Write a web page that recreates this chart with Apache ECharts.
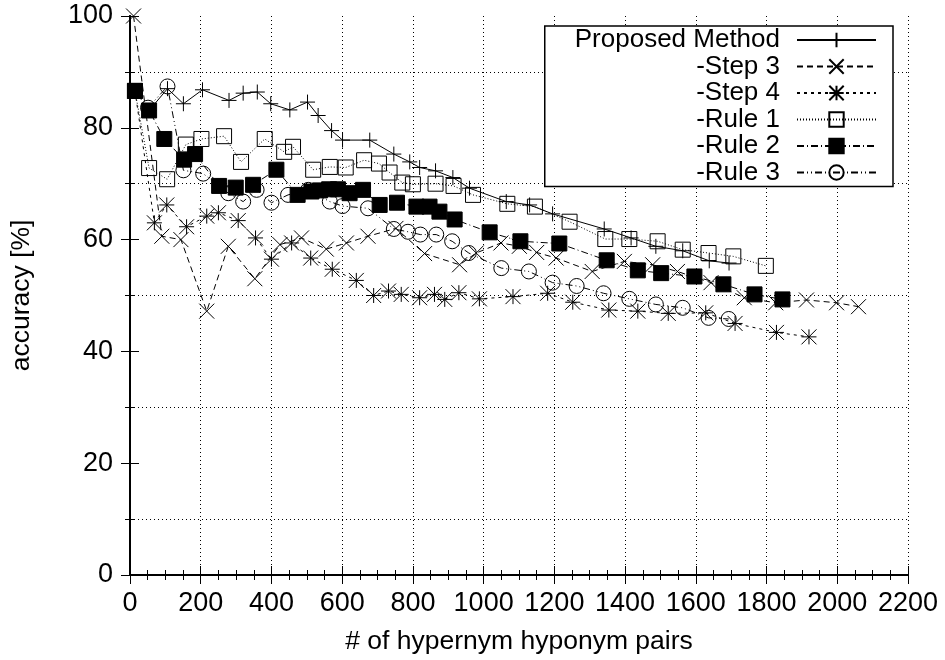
<!DOCTYPE html>
<html><head><meta charset="utf-8">
<script src="https://cdn.jsdelivr.net/npm/echarts@6/dist/echarts.min.js"></script>
<style>html,body{margin:0;padding:0;background:#fff}#c{width:945px;height:660px}</style>
</head><body><div id="c"></div>
<script>
const FONT = 'Liberation Sans';
const seriesNames = ['Proposed Method', '-Step 3', '-Step 4', '-Rule 1', '-Rule 2', '-Rule 3'];

const proposedX = [54,106,151,205,280,320,360,398,452,502,532,570,601,678,746,791,819,864,913,960,1064,1130,1195,1341,1417,1487,1563,1638,1694];
const proposedY = [83.1,87.0,84.3,86.8,84.9,86.2,86.4,84.3,83.2,84.6,82.2,79.5,77.8,77.8,75.3,73.9,72.9,72.3,71.1,69.2,66.8,66.2,64.6,61.9,60.3,58.8,58.0,56.2,55.8];

const step3X = [10,90,144,217,278,353,424,485,555,612,673,752,833,932,979,1049,1101,1150,1205,1307,1398,1478,1548,1643,1737,1826,1913,1998,2060];
const step3Y = [100,60.6,60.0,47.2,58.8,53.0,59.1,60.3,58.3,59.4,60.6,62.0,57.5,55.5,57.6,59.4,58.8,57.7,56.7,54.3,56.1,55.5,54.3,52.3,49.6,48.7,49.2,48.7,48.0];

const step4X = [14,69,104,160,217,250,306,355,400,457,511,572,640,689,731,767,819,861,890,930,988,1083,1181,1252,1354,1436,1522,1628,1711,1828,1920];
const step4Y = [86.6,63.0,66.2,62.3,64.2,64.8,63.4,60.3,56.5,59.4,56.7,54.7,52.7,50.0,50.8,50.2,49.6,50.2,49.3,50.5,49.4,49.8,50.4,48.8,47.4,47.2,46.8,46.9,45.0,43.4,42.6];

const rule1X = [14,54,105,158,202,266,314,381,436,461,518,565,610,662,704,734,770,800,864,915,970,1067,1145,1243,1344,1412,1492,1563,1636,1706,1798];
const rule1Y = [86.6,72.8,70.8,77.0,78.0,78.5,73.9,78.0,75.7,76.6,72.5,73.0,72.9,74.2,73.6,72.0,70.2,69.9,70.0,69.6,68.0,66.4,65.9,63.2,60.1,60.1,59.7,58.2,57.6,57.0,55.3];

const rule2X = [14,54,97,153,184,252,299,348,414,474,513,537,563,588,621,659,706,755,810,847,875,918,1017,1104,1214,1348,1436,1502,1596,1678,1766,1845];
const rule2Y = [86.6,83.1,78.0,74.3,75.3,69.6,69.3,69.8,72.5,68.0,68.6,68.8,69.0,69.0,68.3,68.9,66.2,66.6,65.9,65.9,65.0,63.6,61.3,59.7,59.3,56.3,54.5,54.0,53.4,52.0,50.2,49.3];

const rule3X = [51,106,151,207,278,320,358,400,447,504,565,601,673,746,786,821,866,911,958,1050,1128,1195,1263,1339,1412,1487,1563,1636,1693];
const rule3Y = [83.6,87.4,72.4,71.8,68.3,66.8,68.9,66.6,68.0,68.9,66.8,66.0,65.6,61.9,61.4,60.9,60.9,59.7,57.6,54.9,54.3,52.3,51.7,50.4,49.4,48.4,47.8,46.0,45.8];

const xTicks = {min: 0, max: 2200, interval: 200};
const yTicks = {min: 0, max: 100, interval: 20};

function zip(xs, ys) { return xs.map((x, i) => [x, ys[i]]); }

const SYM_PLUS = 'path://M5,0L5,10M0,5L10,5';
const SYM_X = 'path://M0,0L10,10M0,10L10,0';
const SYM_STAR = 'path://M5,0L5,10M0,5L10,5M0,0L10,10M0,10L10,0';

const openStyle = {color: 'rgba(0,0,0,0)', borderColor: '#000', borderWidth: 1};

function mk(name, data, symbol, size, dash, itemStyle) {
  return {
    name, type: 'line', data, symbol, symbolSize: size,
    showAllSymbol: true,
    lineStyle: {color: '#000', width: 1, type: dash},
    itemStyle,
    emphasis: {disabled: true},
    animation: false
  };
}

const chart = echarts.init(document.getElementById('c'), null, {renderer: 'canvas'});

const axisCommon = {
  type: 'value',
  axisLine: {show: true, lineStyle: {color: '#000', width: 2}},
  axisTick: {show: true, inside: true, length: 9, lineStyle: {color: '#000', width: 1}},
  minorTick: {show: true, length: 5, lineStyle: {color: '#000', width: 1}},
};
const plain = v => String(v);

chart.setOption({
  animation: false,
  textStyle: {fontFamily: FONT},
  grid: {left: 130, right: 37, top: 16, bottom: 83, show: false},
  legend: {
    orient: 'vertical', align: 'right', right: 52, top: 26,
    padding: [1, 16, 1, 30], itemGap: 0.5,
    itemWidth: 79, itemHeight: 18,
    borderColor: '#000', borderWidth: 1.5, backgroundColor: '#fff',
    textStyle: {fontFamily: FONT, fontSize: 26, color: '#000', padding: [0, 12, 0, 0]},
    data: seriesNames
  },
  xAxis: [
    Object.assign({}, axisCommon, xTicks, {
      position: 'bottom',
      minorTick: Object.assign({}, axisCommon.minorTick, {splitNumber: 4}),
      axisLabel: {fontFamily: FONT, fontSize: 27, color: '#000', margin: 15, formatter: plain},
      splitLine: {show: true, lineStyle: {color: '#000', width: 1, type: [1, 3]}},
      name: '# of hypernym hyponym pairs', nameLocation: 'middle', nameGap: 53,
      nameTextStyle: {fontFamily: FONT, fontSize: 26.5, color: '#000'}
    }),
    Object.assign({}, axisCommon, xTicks, {
      position: 'top',
      minorTick: Object.assign({}, axisCommon.minorTick, {splitNumber: 4}),
      axisLabel: {show: false}, splitLine: {show: false}
    })
  ],
  yAxis: [
    Object.assign({}, axisCommon, yTicks, {
      position: 'left',
      minorTick: Object.assign({}, axisCommon.minorTick, {splitNumber: 2}),
      axisLabel: {fontFamily: FONT, fontSize: 27, color: '#000', margin: 17, formatter: plain},
      splitLine: {show: false},
      minorSplitLine: {show: true, lineStyle: {color: '#000', width: 1, type: [1, 3]}},
      name: 'accuracy [%]', nameLocation: 'middle', nameGap: 95, nameRotate: 90,
      nameTextStyle: {fontFamily: FONT, fontSize: 26.5, color: '#000'}
    }),
    Object.assign({}, axisCommon, yTicks, {
      position: 'right',
      minorTick: Object.assign({}, axisCommon.minorTick, {splitNumber: 2}),
      axisLabel: {show: false}, splitLine: {show: false}
    })
  ],
  series: [
    mk(seriesNames[0], zip(proposedX, proposedY), SYM_PLUS, 15, 'solid', openStyle),
    mk(seriesNames[1], zip(step3X, step3Y), SYM_X, 15, [6, 4], openStyle),
    mk(seriesNames[2], zip(step4X, step4Y), SYM_STAR, 15, [3, 4], openStyle),
    mk(seriesNames[3], zip(rule1X, rule1Y), 'rect', 15, [1, 2], openStyle),
    mk(seriesNames[4], zip(rule2X, rule2Y), 'rect', 15, [7, 3, 1, 3], {color: '#000', borderColor: '#000', borderWidth: 1}),
    mk(seriesNames[5], zip(rule3X, rule3Y), 'circle', 15, [7, 3, 1, 3, 1, 3], openStyle)
  ]
});
</script></body></html>
